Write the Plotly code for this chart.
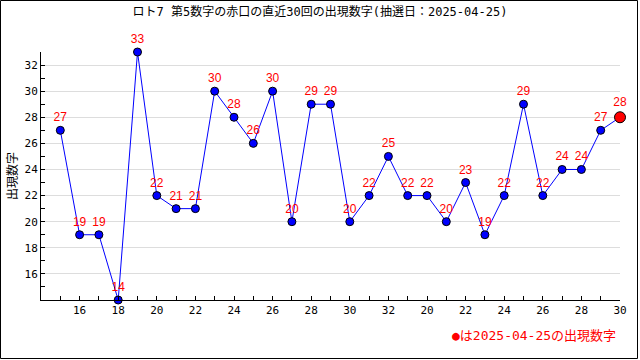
import plotly.graph_objects as go

values = [27, 19, 19, 14, 33, 22, 21, 21, 30, 28, 26, 30, 20, 29, 29,
          20, 22, 25, 22, 22, 20, 23, 19, 22, 29, 22, 24, 24, 27, 28]
x_index = list(range(len(values)))
tick_positions = [1, 3, 5, 7, 9, 11, 13, 15, 17, 19, 21, 23, 25, 27, 29]
tick_labels = ["16", "18", "20", "22", "24", "26", "28", "30", "32",
               "20", "22", "24", "26", "28", "30"]
y_ticks = [16, 18, 20, 22, 24, 26, 28, 30, 32]

title_text = "ロト7 第5数字の赤口の直近30回の出現数字(抽選日：2025-04-25)"
legend_text = "●は2025-04-25の出現数字"
font_family = "DejaVu Sans Mono, Noto Sans CJK JP"
label_family = "Liberation Sans, Arial"

fig = go.Figure()
fig.add_trace(go.Scatter(
    x=x_index, y=values,
    mode="lines",
    line=dict(color="#0000ff", width=1),
    hoverinfo="skip", showlegend=False,
))
fig.add_trace(go.Scatter(
    x=x_index[:-1], y=values[:-1],
    mode="markers+text",
    marker=dict(color="#0000ff", size=8, line=dict(color="black", width=1)),
    text=[str(v) for v in values[:-1]],
    textposition="top center",
    textfont=dict(color="#ff0000", size=12, family=label_family),
    cliponaxis=False, showlegend=False,
))
fig.add_trace(go.Scatter(
    x=[x_index[-1]], y=[values[-1]],
    mode="markers+text",
    marker=dict(color="#ff0000", size=11, line=dict(color="black", width=1)),
    text=[str(values[-1])],
    textposition="top center",
    textfont=dict(color="#ff0000", size=12, family=label_family),
    cliponaxis=False, showlegend=False,
))

L, R, T, B = 41, 20, 52, 60
W, H = 640, 360
pw, ph = W - L - R, H - T - B

fig.update_layout(
    width=W, height=H,
    margin=dict(l=L, r=R, t=T, b=B, autoexpand=False),
    paper_bgcolor="white", plot_bgcolor="white",
    font=dict(family=font_family, size=11, color="black"),
    title=dict(text=title_text, x=0.5, xref="container", xanchor="center",
               y=1 - 12 / H, yanchor="middle",
               font=dict(size=12, color="black", family=font_family)),
    xaxis=dict(
        range=[-1, 29], tickvals=tick_positions, ticktext=tick_labels,
        ticks="inside", ticklen=4, tickcolor="black",
        showline=True, linecolor="black", linewidth=1,
        showgrid=False, zeroline=False, automargin=False,
        minor=dict(dtick=1, tick0=0, ticks="inside", ticklen=4, tickcolor="black"),
        tickfont=dict(size=11, color="black"),
        fixedrange=True,
    ),
    yaxis=dict(
        range=[14, 33], tickvals=y_ticks,
        ticks="inside", ticklen=4, tickcolor="black",
        showline=True, linecolor="black", linewidth=1,
        showgrid=True, gridcolor="#dddddd", gridwidth=1, zeroline=False,
        automargin=False,
        minor=dict(dtick=1, tick0=0, ticks="inside", ticklen=4, tickcolor="black",
                   showgrid=False),
        tickfont=dict(size=11, color="black"),
        title=dict(text="出現数字", standoff=4, font=dict(size=12, color="black")),
        fixedrange=True,
    ),
    annotations=[dict(
        text=legend_text, xref="paper", yref="paper",
        x=(618 - L) / pw, y=(300 - 335) / ph, xanchor="right", yanchor="middle",
        showarrow=False, font=dict(size=13, color="#ff0000", family=font_family),
    )],
    shapes=[dict(
        type="rect", xref="paper", yref="paper",
        x0=(0.5 - L) / pw, x1=(637.5 - L) / pw,
        y0=(300 - 358.5) / ph, y1=(300 - 0.5) / ph,
        line=dict(color="black", width=1), fillcolor="rgba(0,0,0,0)",
        layer="below",
    )],
)

fig.write_html("out.html", config={"displayModeBar": False},
               post_script="document.body.style.margin='0';document.body.style.padding='0';")
